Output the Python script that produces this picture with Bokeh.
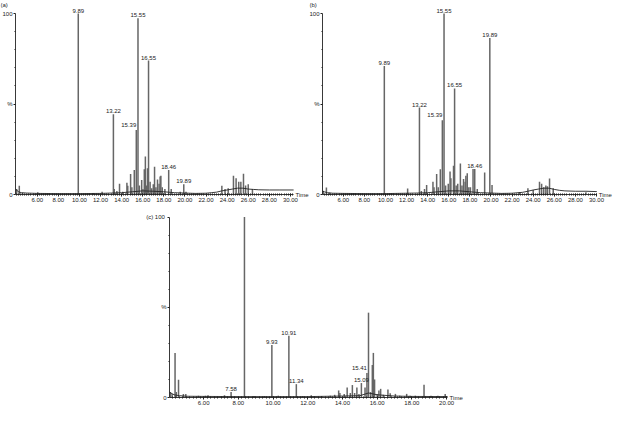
import numpy as np
from bokeh.plotting import figure
from bokeh.layouts import column, row
from bokeh.models import FixedTicker, Label, Spacer, Range1d, NumeralTickFormatter
from bokeh.embed import file_html
from bokeh.resources import INLINE

FONT = "Liberation Sans"
INK = "#222222"
PEAK = "#666666"

# ---------------- data: panel (a) ----------------
a_rt = [4.05, 4.3, 4.6, 6.05, 9.89, 11.3, 12.15, 13.22, 13.3, 13.55, 13.8, 14.1, 14.5, 14.58,
        14.85, 14.97, 15.2, 15.39, 15.55, 15.68, 15.9, 16.02, 16.15, 16.25, 16.38, 16.45, 16.55,
        16.7, 16.85, 17.0, 17.12, 17.25, 17.4, 17.55, 17.65, 17.72, 17.85, 18.1, 18.46, 18.7,
        19.55, 19.89, 20.1, 23.5, 23.8, 24.1, 24.6, 24.85, 25.1, 25.3, 25.55, 25.75, 26.0, 26.4]
a_h = [3.0, 4.8, 1.0, 1.2, 100.0, 0.8, 1.5, 44.4, 3.0, 2.0, 6.0, 1.5, 6.5, 4.8,
       11.3, 4.0, 13.6, 35.6, 97.4, 5.0, 8.0, 3.0, 14.0, 21.0, 5.0, 14.5, 74.0,
       7.0, 3.5, 5.6, 15.3, 4.0, 8.3, 6.0, 10.0, 10.4, 4.0, 3.0, 13.5, 3.0,
       1.5, 5.6, 1.5, 4.8, 3.0, 3.5, 10.4, 9.0, 7.0, 7.0, 11.5, 5.0, 5.6, 3.0]
a_base_t = [3.94, 4.05, 4.2, 4.5, 5.0, 6.0, 8.0, 10.0, 12.0, 13.0, 14.0, 15.0, 16.0, 17.0, 18.0,
            19.0, 20.0, 21.0, 22.0, 22.5, 23.0, 23.5, 24.0, 24.5, 25.0, 25.5, 26.0, 26.5, 27.0,
            28.0, 29.0, 30.3]
a_base_h = [3.0, 2.5, 1.5, 1.0, 0.8, 0.6, 0.5, 0.5, 0.6, 0.8, 1.0, 1.5, 2.0, 1.8, 1.5,
            1.0, 0.8, 0.6, 0.7, 1.0, 1.3, 2.0, 2.5, 3.0, 3.5, 3.5, 3.0, 2.8, 2.6,
            2.5, 2.5, 2.5]
a_labels = ["9.89", "13.22", "15.39", "15.55", "16.55", "18.46", "19.89"]
a_side = ["15.39"]

# ---------------- data: panel (b) ----------------
b_rt = [4.1, 4.4, 4.7, 9.89, 12.1, 13.22, 13.4, 13.7, 13.9, 14.5, 14.6, 14.85, 15.0, 15.2,
        15.39, 15.55, 15.7, 15.95, 16.12, 16.2, 16.45, 16.55, 16.7, 16.85, 17.1, 17.25, 17.4,
        17.55, 17.62, 17.75, 17.9, 18.05, 18.3, 18.46, 18.7, 19.4, 19.89, 20.1, 22.7, 23.5,
        24.0, 24.6, 24.8, 25.0, 25.2, 25.35, 25.55, 25.9, 29.0]
b_h = [2.0, 3.9, 1.0, 71.0, 3.3, 48.0, 2.0, 3.0, 5.3, 7.0, 4.0, 11.3, 4.0, 14.0,
       41.0, 100.0, 5.0, 6.0, 12.7, 9.0, 15.9, 58.6, 5.0, 6.0, 17.1, 5.0, 8.6,
       7.0, 10.4, 11.8, 4.0, 4.0, 14.1, 14.1, 3.0, 12.2, 86.4, 5.3, 1.2, 3.4,
       2.5, 7.0, 6.0, 4.0, 5.0, 4.5, 8.8, 3.5, 1.2]
b_base_t = [4.03, 4.2, 4.5, 5.0, 6.0, 8.0, 10.0, 12.0, 13.0, 14.0, 15.0, 16.0, 17.0, 18.0,
            19.0, 20.0, 21.0, 22.0, 23.0, 23.5, 24.0, 24.5, 25.0, 25.5, 26.0, 26.5, 27.0,
            28.0, 29.0, 30.03]
b_base_h = [2.0, 1.5, 1.0, 0.7, 0.6, 0.5, 0.5, 0.7, 0.8, 1.0, 1.5, 2.0, 2.0, 1.5,
            1.0, 0.8, 0.6, 0.7, 1.2, 1.8, 2.5, 3.0, 3.5, 3.5, 2.8, 2.3, 2.0,
            1.8, 1.8, 1.6]
b_labels = ["9.89", "13.22", "15.39", "15.55", "16.55", "18.46", "19.89"]
b_side = ["15.39"]

# ---------------- data: panel (c) ----------------
c_rt = [4.08, 4.18, 4.35, 4.42, 4.55, 4.83, 4.97, 5.7, 6.1, 6.25, 7.2, 7.58, 8.35, 8.9,
        9.5, 9.93, 10.3, 10.91, 11.34, 11.7, 12.2, 12.8, 13.3, 13.55, 13.78, 13.85, 14.1,
        14.27, 14.45, 14.57, 14.7, 14.83, 14.95, 15.09, 15.3, 15.41, 15.5, 15.62, 15.72,
        15.78, 15.85, 16.0, 16.1, 16.2, 16.35, 16.62, 16.75, 17.05, 17.3, 17.7, 17.9, 18.2,
        18.7, 19.1, 19.5, 19.92]
c_h = [3.0, 2.0, 24.7, 3.0, 9.9, 2.0, 2.0, 1.0, 1.0, 1.2, 1.2, 3.0, 100.0, 0.8,
       0.8, 29.1, 1.0, 34.2, 7.4, 0.8, 1.2, 0.8, 1.0, 1.5, 3.9, 2.5, 2.0,
       5.6, 2.5, 6.9, 2.5, 5.6, 2.0, 8.0, 5.6, 13.6, 47.0, 3.0, 18.0,
       24.7, 10.0, 2.0, 3.9, 4.8, 1.5, 4.4, 2.4, 2.0, 1.0, 2.0, 1.0, 1.0,
       7.0, 1.0, 1.0, 2.0]
c_base_t = [4.03, 4.1, 4.3, 4.6, 5.0, 6.0, 8.0, 10.0, 12.0, 14.0, 15.0, 15.5, 16.0, 17.0,
            18.0, 20.06]
c_base_h = [3.0, 2.5, 1.5, 1.0, 0.7, 0.6, 0.5, 0.5, 0.5, 0.8, 1.0, 2.5, 1.5, 0.8,
            0.6, 0.5]
c_labels = ["7.58", "9.93", "10.91", "11.34", "15.09", "15.41"]
c_side = ["15.41"]

x_tick_labels_a = [6, 8, 10, 12, 14, 16, 18, 20, 22, 24, 26, 28, 30]
x_tick_labels_c = [6, 8, 10, 12, 14, 16, 18, 20]


def panel(rt, h, bt, bh, labels, side, tag, tag_in_tick, xlo, xhi, xticks,
          width, height, ax_x, ax_y0, ax_y100, px_per_min, tag_dx):
    # frame covers the whole canvas; axes are pinned at (xlo, 0)
    px_per_pct = (ax_y0 - ax_y100) / 100.0
    x_start = xlo - ax_x / px_per_min
    x_end = xlo + (width - ax_x) / px_per_min
    y_end = 100 + ax_y100 / px_per_pct
    y_start = -(height - ax_y0) / px_per_pct
    p = figure(width=width, height=height, output_backend="svg", toolbar_location=None,
               x_range=Range1d(x_start, x_end), y_range=Range1d(y_start, y_end),
               min_border_left=0, min_border_right=0, min_border_top=0, min_border_bottom=0)
    p.outline_line_color = None
    p.grid.visible = False
    p.background_fill_color = "white"
    p.border_fill_color = "white"

    p.segment(x0=rt, y0=[0] * len(rt), x1=rt, y1=h, line_color=PEAK, line_width=1.5)
    p.line(bt, bh, line_color=INK, line_width=0.9)

    rt_arr = np.array(rt)
    for lab in labels:
        i = int(np.argmin(np.abs(rt_arr - float(lab))))
        if lab in side:
            p.add_layout(Label(x=rt[i], y=h[i], text=lab, text_align="right",
                               text_baseline="bottom", x_offset=0, y_offset=3,
                               text_font=FONT, text_font_size="6px", text_color=INK))
        else:
            p.add_layout(Label(x=rt[i], y=h[i], text=lab, text_align="center",
                               text_baseline="bottom", y_offset=1,
                               text_font=FONT, text_font_size="6px", text_color=INK))

    xa = p.xaxis[0]
    xa.fixed_location = 0
    xa.bounds = (xlo, xhi)
    minor = [round(v, 2) for v in np.arange(np.ceil(xlo * 5) / 5, xhi, 0.2)]
    xa.ticker = FixedTicker(ticks=xticks, minor_ticks=minor)
    xa.formatter = NumeralTickFormatter(format="0.00")
    xa.major_tick_out = 2
    xa.major_tick_in = 1
    xa.minor_tick_out = 1
    xa.minor_tick_in = 1
    xa.major_label_standoff = 1
    ya = p.yaxis[0]
    ya.fixed_location = xlo
    ya.bounds = (0, 100)
    ya.ticker = FixedTicker(ticks=[0, 50, 100], minor_ticks=list(range(10, 100, 10)))
    top_txt = tag + "  100" if tag_in_tick else "100"
    ya.major_label_overrides = {0: "0", 50: "%", 100: top_txt}
    ya.major_tick_out = 2
    ya.major_tick_in = 0
    ya.minor_tick_out = 1
    ya.minor_tick_in = 0
    ya.major_label_standoff = 1
    for ax in (xa, ya):
        ax.axis_line_color = INK
        ax.axis_line_width = 0.9
        ax.major_tick_line_color = INK
        ax.minor_tick_line_color = INK
        ax.major_label_text_font = FONT
        ax.major_label_text_font_size = "6px"
        ax.major_label_text_color = INK

    p.add_layout(Label(x=xhi, y=0, text="Time", x_offset=2, text_baseline="middle",
                       text_font=FONT, text_font_size="6px", text_color=INK))
    if not tag_in_tick:
        p.add_layout(Label(x=xlo, y=100, text=tag, x_offset=tag_dx[0], y_offset=tag_dx[1],
                           text_baseline="top", text_align="left",
                           text_font=FONT, text_font_size="6px", text_color=INK))
    return p


fa = panel(a_rt, a_h, a_base_t, a_base_h, a_labels, a_side, "(a)", False,
           3.94, 30.3, x_tick_labels_a, 309, 212, 15, 194, 13, 10.55, (-15, 12))
fb = panel(b_rt, b_h, b_base_t, b_base_h, b_labels, b_side, "(b)", False,
           4.03, 30.03, x_tick_labels_a, 305, 212, 13, 194, 13, 10.55, (-13, 12))
fc = panel(c_rt, c_h, c_base_t, c_base_h, c_labels, c_side, "(c)", True,
           4.03, 20.06, x_tick_labels_c, 340, 194, 37, 185, 4.5, 17.35, (0, 0))

layout = column(row(fa, fb), row(Spacer(width=132, height=194), fc))
open("out.html", "w").write(file_html(layout, INLINE))
